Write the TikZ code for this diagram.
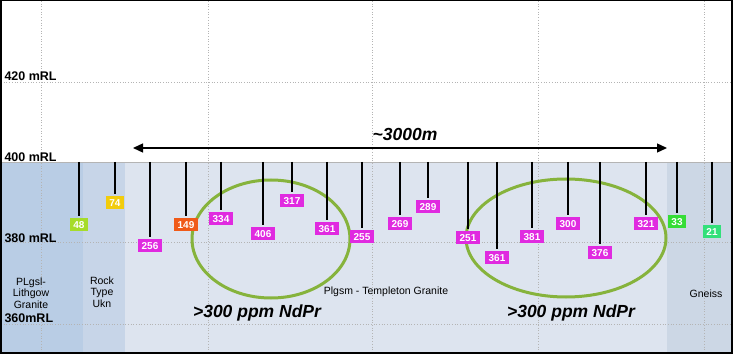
\documentclass[tikz,border=0pt]{standalone}
\usepackage{fontspec}
\setsansfont{Liberation Sans}
\usetikzlibrary{arrows.meta}
\definecolor{ink}{HTML}{000000}
\definecolor{gridgrey}{HTML}{B4B4B4}
\definecolor{lithgow}{HTML}{B9CDE5}
\definecolor{ukn}{HTML}{C7D5E8}
\definecolor{templeton}{HTML}{DDE4EF}
\definecolor{gneiss}{HTML}{CCD7E5}
\definecolor{lime}{HTML}{A6DC2A}
\definecolor{amber}{HTML}{F2CC0C}
\definecolor{rust}{HTML}{F05A18}
\definecolor{mag}{HTML}{E02AE0}
\definecolor{leaf}{HTML}{36DD36}
\definecolor{mint}{HTML}{33E07A}
\definecolor{ring}{HTML}{86B33C}

\begin{document}
\begin{tikzpicture}[font=\sffamily,text=ink,x=1pt,y=-1pt,
  assay/.style={fill=#1,text=white,inner xsep=3.5pt,inner ysep=0pt,
    minimum height=13pt,font=\sffamily\bfseries\fontsize{10}{10}\selectfont},
  rl/.style={anchor=west,font=\sffamily\bfseries\fontsize{12.5}{12.5}\selectfont},
  unit/.style={align=center,font=\sffamily\fontsize{10.5}{11.5}\selectfont},
  big/.style={font=\sffamily\bfseries\itshape\fontsize{17.5}{17.5}\selectfont}]
  \useasboundingbox (0,0) rectangle (736,363);

  % rock units below 400 mRL
  \fill[lithgow] (0,162) rectangle (83,353);
  \fill[ukn] (83,162) rectangle (125,353);
  \fill[templeton] (125,162) rectangle (667,353);
  \fill[gneiss] (667,162) rectangle (732,353);

  % grid
  \foreach \x in {41,208,372,538,704}
    \draw[gridgrey,dotted,line width=.7pt] (\x,1) -- (\x,353);
  \foreach \y in {82,242,324}
    \draw[gridgrey,dotted,line width=.7pt] (1,\y) -- (732,\y);
  \draw[gridgrey,line width=.8pt] (0,162) -- (732,162);

  % elevation labels
  \node[rl] (rl420) at (1,76) {420 mRL};
  \node[rl] (rl400) at (1,157) {400 mRL};
  \node[rl] (rl380) at (1,238) {380 mRL};
  \node[rl] (rl360) at (1,318) {360mRL};

  \node[unit] (plgsl) at (31,293) {PLgsl-\\Lithgow\\Granite};
  \node[unit] (rockukn) at (102,292) {Rock\\Type\\Ukn};
  \node[unit] (plgsm) at (386,292) {Plgsm - Templeton Granite};
  \node[unit] (gneissu) at (706,294) {Gneiss};

  % NdPr zones
  \draw[ring,line width=3pt] (271,239) ellipse [x radius=79,y radius=59];
  \draw[ring,line width=3pt] (566,238) ellipse [x radius=100,y radius=59];
  \node[big] (zoneW) at (257,313) {\textgreater300 ppm NdPr};
  \node[big] (zoneE) at (571,313) {\textgreater300 ppm NdPr};

  % drillholes with NdPr assays
  \foreach \n/\x/\y/\v/\c in {1/79/225/48/lime,2/115/203/74/amber,
      3/150/246/256/mag,4/186/225/149/rust,5/221/219/334/mag,
      6/263/234/406/mag,7/292/201/317/mag,8/327/229/361/mag,
      9/362/237/255/mag,10/400/224/269/mag,11/428/207/289/mag,
      12/468/238/251/mag,13/497/258/361/mag,14/532/237/381/mag,
      15/568/224/300/mag,16/600/253/376/mag,17/646/224/321/mag,
      18/677/222/33/leaf,19/712/232/21/mint}{
    \coordinate (collar\n) at (\x,162);
    \node[assay=\c] (hole\n) at (\x,\y) {\v};
    \draw[ink,line width=1.5pt,shorten >=2pt] (collar\n) -- (hole\n);
  }

  % strike length
  \coordinate (spanW) at (133,148);
  \coordinate (spanE) at (667,148);
  \draw[ink,line width=1.3pt,
    {Triangle[length=10pt,width=9pt]}-{Triangle[length=10pt,width=9pt]}]
    (spanW) -- (spanE);
  \node[big] (span) at (405,134) {\textasciitilde3000m};

  \draw[ink,line width=1.5pt] (.75,.75) rectangle (732,353);
\end{tikzpicture}
\end{document}
